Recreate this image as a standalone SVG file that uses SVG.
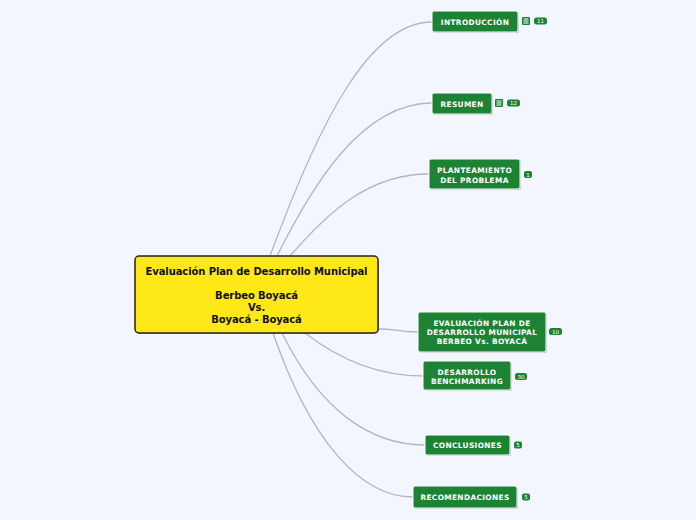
<svg xmlns="http://www.w3.org/2000/svg" width="696" height="520" viewBox="0 0 696 520">
<style>
.bg{fill:#F3F6FE}
.con{fill:none;stroke:#B4B6BC;stroke-width:1.3}
.node{fill:#1B8333;stroke:#FFFFFF;stroke-width:1}
.sh{fill:#B8BBC2}
.nt{font-family:"DejaVu Sans",Verdana,sans-serif;font-weight:bold;font-size:7.4px;fill:#FFFFFF;text-anchor:middle;letter-spacing:0.35px}
.ct{font-family:"DejaVu Sans",Verdana,sans-serif;font-weight:bold;font-size:10px;fill:#111111;text-anchor:middle;letter-spacing:-0.1px}
.badge{fill:#1B8333}
.bt{font-family:"DejaVu Sans",sans-serif;font-size:5.5px;fill:#FFFFFF;text-anchor:middle}
.ic{fill:#1B8333}
.il{stroke:#FFFFFF;stroke-width:1}
</style>
<rect class="bg" x="0" y="0" width="696" height="520"/>
<g id="connectors">
<path class="con" d="M270,256 C320,120 370,22 432,22"/>
<path class="con" d="M277,256 C310,190 360,103 432,103"/>
<path class="con" d="M290,256 C330,210 370,174 429,174"/>
<path class="con" d="M378,329 C395,329 400,332 418,332"/>
<path class="con" d="M305,333 C340,360 380,376 423,376"/>
<path class="con" d="M282,333 C320,410 370,445 425,445"/>
<path class="con" d="M273,333 C310,440 360,497 413,497"/>
</g>
<g id="central">
<rect x="136" y="257" width="243" height="77" rx="4" fill="#555" opacity="0.35"/>
<rect x="135" y="256" width="243" height="77" rx="4" fill="#FFE817" stroke="#222222" stroke-width="1.5"/>
<text class="ct" x="256.5" y="275">Evaluación Plan de Desarrollo Municipal</text>
<text class="ct" x="256.5" y="299">Berbeo Boyacá</text>
<text class="ct" x="256.5" y="311">Vs.</text>
<text class="ct" x="256.5" y="323">Boyacá - Boyacá</text>
</g>
<g id="introduccion">
<rect class="sh" x="433" y="12" width="86" height="21" rx="2"/>
<rect class="node" x="432" y="11" width="86" height="21" rx="2"/>
<text class="nt" x="475" y="24.5">INTRODUCCIÓN</text>
<rect class="ic" x="522" y="17" width="8" height="8" rx="1"/>
<path class="il" d="M523.5,19 h5 M523.5,21 h5 M523.5,23 h5"/>
<rect class="badge" x="534" y="17.5" width="13" height="7" rx="2.5"/>
<text class="bt" x="540.5" y="23">11</text>
</g>
<g id="resumen">
<rect class="sh" x="433" y="94" width="60" height="21" rx="2"/>
<rect class="node" x="432" y="93" width="60" height="21" rx="2"/>
<text class="nt" x="462" y="106.5">RESUMEN</text>
<rect class="ic" x="495" y="99" width="8" height="8" rx="1"/>
<path class="il" d="M496.5,101 h5 M496.5,103 h5 M496.5,105 h5"/>
<rect class="badge" x="507" y="99.5" width="13" height="7" rx="2.5"/>
<text class="bt" x="513.5" y="105">12</text>
</g>
<g id="planteamiento">
<rect class="sh" x="430" y="160" width="91" height="30" rx="2"/>
<rect class="node" x="429" y="159" width="91" height="30" rx="2"/>
<text class="nt" x="474.5" y="172.5">PLANTEAMIENTO</text>
<text class="nt" x="474.5" y="182.5">DEL PROBLEMA</text>
<rect class="badge" x="524" y="171" width="8" height="7" rx="2"/>
<text class="bt" x="528" y="176.5">1</text>
</g>
<g id="evaluacion">
<rect class="sh" x="419" y="313" width="128" height="40" rx="2"/>
<rect class="node" x="418" y="312" width="128" height="40" rx="2"/>
<text class="nt" x="482" y="325.5">EVALUACIÓN PLAN DE</text>
<text class="nt" x="482" y="334.5">DESARROLLO MUNICIPAL</text>
<text class="nt" x="482" y="343.5">BERBEO Vs. BOYACÁ</text>
<rect class="badge" x="549" y="328" width="13" height="7" rx="2.5"/>
<text class="bt" x="555.5" y="333.5">10</text>
</g>
<g id="desarrollo">
<rect class="sh" x="424" y="362" width="88" height="29" rx="2"/>
<rect class="node" x="423" y="361" width="88" height="29" rx="2"/>
<text class="nt" x="467" y="374.5">DESARROLLO</text>
<text class="nt" x="467" y="384">BENCHMARKING</text>
<rect class="badge" x="515" y="373" width="12" height="7" rx="2.5"/>
<text class="bt" x="521" y="378.5">30</text>
</g>
<g id="conclusiones">
<rect class="sh" x="426" y="436" width="85" height="20" rx="2"/>
<rect class="node" x="425" y="435" width="85" height="20" rx="2"/>
<text class="nt" x="467.5" y="448">CONCLUSIONES</text>
<rect class="badge" x="514" y="441.5" width="8" height="7" rx="2"/>
<text class="bt" x="518" y="447">5</text>
</g>
<g id="recomendaciones">
<rect class="sh" x="414" y="487" width="104" height="22" rx="2"/>
<rect class="node" x="413" y="486" width="104" height="22" rx="2"/>
<text class="nt" x="465" y="500">RECOMENDACIONES</text>
<rect class="badge" x="522" y="493.5" width="8" height="7" rx="2"/>
<text class="bt" x="526" y="499">5</text>
</g>
</svg>
